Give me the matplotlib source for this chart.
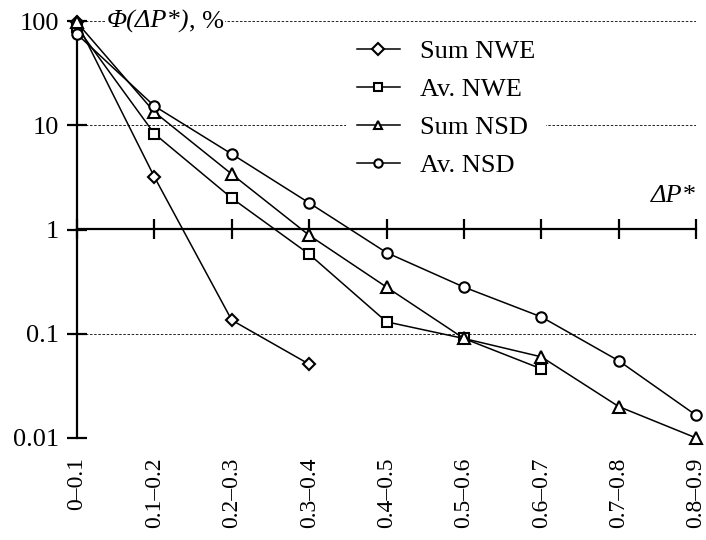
import matplotlib
matplotlib.use("Agg")
import matplotlib.pyplot as plt
import numpy as np

categories = ["0\u20130.1", "0.1\u20130.2", "0.2\u20130.3", "0.3\u20130.4", "0.4\u20130.5",
              "0.5\u20130.6", "0.6\u20130.7", "0.7\u20130.8", "0.8\u20130.9"]
sum_nwe = [97, 3.2, 0.135, 0.051]
av_nwe = [87, 8.3, 2.0, 0.58, 0.13, 0.09, 0.046]
sum_nsd = [97, 13.4, 3.4, 0.88, 0.28, 0.09, 0.06, 0.02, 0.01]
av_nsd = [75, 15.3, 5.3, 1.8, 0.6, 0.28, 0.145, 0.055, 0.0165]
ytick_vals = [0.01, 0.1, 1, 10, 100]
ytick_labels = ["0.01", "0.1", "1", "10", "100"]

plt.rcParams['font.family'] = ['Liberation Serif', 'DejaVu Serif']

fig = plt.figure(figsize=(7.06, 5.4), dpi=100)
ax = fig.add_axes([0.109, 0.189, 0.877, 0.772])

series = [
    (sum_nwe, 'D', 'Sum NWE', 6.0),
    (av_nwe, 's', 'Av. NWE', 7.0),
    (sum_nsd, '^', 'Sum NSD', 8.0),
    (av_nsd, 'o', 'Av. NSD', 7.5),
]
for vals, m, lab, ms in series:
    x = np.arange(len(vals))
    ax.plot(x, vals, color='black', lw=1.1, marker=m, ms=ms, mfc='white',
            mec='black', mew=1.5, label=lab, zorder=3, clip_on=False)

ax.set_yscale('log')
ax.set_ylim(0.01, 100)
ax.set_xlim(0, len(categories) - 1)

for v in [0.01, 0.1, 10, 100]:
    ax.axhline(v, color='black', lw=0.6, ls=(0, (3, 2)), zorder=1)

for s in ['top', 'right', 'bottom']:
    ax.spines[s].set_visible(False)
ax.spines['left'].set_linewidth(1.6)

ax.set_yticks(ytick_vals)
ax.set_yticklabels(ytick_labels)
ax.yaxis.set_minor_locator(matplotlib.ticker.NullLocator())
ax.tick_params(axis='y', direction='inout', length=14, width=1.6, labelsize=19, pad=6)

ax.set_xticks(np.arange(len(categories)))
ax.set_xticklabels(categories, rotation=90, fontsize=17)
ax.tick_params(axis='x', length=0, pad=14)

sec = ax.secondary_xaxis(0.5)
sec.set_xticks(np.arange(len(categories)))
sec.set_xticklabels([])
sec.tick_params(axis='x', direction='inout', length=14, width=1.6)
sec.spines['bottom'].set_linewidth(1.6)
sec.spines['top'].set_linewidth(1.6)

t1 = ax.text(0.38, 100, "\u03a6(\u0394P*)", fontsize=19, style='italic',
             ha='left', va='center',
             bbox=dict(facecolor='white', edgecolor='none', pad=1), zorder=4)
ax.annotate(", %", xy=(1, 0.5), xycoords=t1, fontsize=19, ha='left', va='center',
            bbox=dict(facecolor='white', edgecolor='none', pad=1), zorder=4)
ax.text(8.0, 2.1, "\u0394P*", fontsize=19, style='italic', ha='right', va='center')

leg = ax.legend(loc='upper left', bbox_to_anchor=(0.435, 0.98), frameon=True,
                fontsize=19, handlelength=1.63, labelspacing=0.55,
                borderaxespad=0, handletextpad=0.76)
leg.get_frame().set_edgecolor('none')
leg.get_frame().set_facecolor('white')
leg.get_frame().set_alpha(1)
for h in leg.legend_handles:
    h.set_markersize(6)

fig.savefig("out.png", dpi=100)
